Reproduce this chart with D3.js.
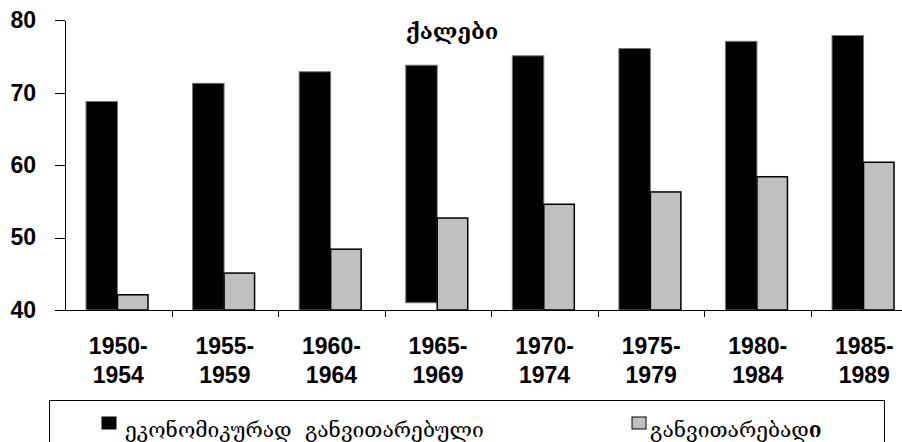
<!DOCTYPE html>
<head>
  <meta charset="utf-8">
  <style>
    body { margin: 0; background: #fff; }
    svg { display: block; }
    svg .axis path, svg .axis line { stroke: #000; stroke-width: 1px; shape-rendering: crispEdges; }
    svg .ytick { font: bold 23px "Liberation Sans", Arial, sans-serif; }
    svg .xlab { font: bold 23px "Liberation Sans", Arial, sans-serif; text-anchor: middle; }
    svg .title { font: bold 22px "DejaVu Serif", serif; text-anchor: middle; }
    svg .legend text { font: 21px "DejaVu Serif", serif; }
  </style>
</head>

<body>
<script src="https://d3js.org/d3.v7.min.js"></script>

<script>
  // data
  var periods = ["1950-1954", "1955-1959", "1960-1964", "1965-1969",
                 "1970-1974", "1975-1979", "1980-1984", "1985-1989"];
  var developed  = [68.8, 71.3, 72.9, 73.8, 75.1, 76.1, 77.1, 77.9];
  var developing = [42.1, 45.1, 48.4, 52.7, 54.6, 56.3, 58.4, 60.4];
  var developedBase = [40, 40, 40, 41, 40, 40, 40, 40];
  var seriesNames = ["ეკონომიკურად  განვითარებული", "განვითარებად"];
  var yTicks = [40, 50, 60, 70, 80];
  var title = "ქალები";

  var width = 902, height = 442;

  var svg = d3.select("body")
    .append("svg")
      .attr("width", width)
      .attr("height", height);

  // scales (plot runs past the right edge, like the cropped original)
  var x = d3.scaleBand().domain(periods).range([65, 917.6]);
  var xs = d3.scaleBand().domain([0, 1]).range([21, 84]);
  var y = d3.scaleLinear().domain([40, 80]).range([310, 20.3]);

  // bars - developed (black)
  svg.append("g").selectAll("rect")
    .data(periods)
    .join("rect")
      .attr("x", function (d) { return x(d) + xs(0); })
      .attr("y", function (d, i) { return y(developed[i]); })
      .attr("width", xs.bandwidth())
      .attr("height", function (d, i) { return y(developedBase[i]) - y(developed[i]); })
      .style("fill", "#000")
      .style("stroke", "#777")
      .style("stroke-width", "1px");

  // bars - developing (grey)
  svg.append("g").selectAll("rect")
    .data(periods)
    .join("rect")
      .attr("x", function (d) { return x(d) + xs(1); })
      .attr("y", function (d, i) { return y(developing[i]); })
      .attr("width", xs.bandwidth() - 1)
      .attr("height", function (d, i) { return y(40) - y(developing[i]); })
      .style("fill", "#c0c0c0")
      .style("stroke", "#000")
      .style("stroke-width", "1.5px");

  // y axis
  var yAxis = d3.axisLeft(y).tickValues(yTicks).tickSize(10).tickSizeOuter(0).tickPadding(19);
  var ya = svg.append("g")
      .attr("class", "axis")
      .attr("transform", "translate(65,0)")
      .call(yAxis);
  ya.selectAll("text").attr("class", "ytick").attr("fill", "#000");

  // x axis
  var xAxis = d3.axisBottom(x).tickSize(0).tickSizeOuter(0).tickFormat("");
  var xa = svg.append("g")
      .attr("class", "axis")
      .attr("transform", "translate(0,310)")
      .call(xAxis);
  xa.selectAll(".tick line").remove();

  // tick marks between categories
  xa.selectAll("line.sep")
    .data(periods.slice(1))
    .join("line")
      .attr("class", "sep")
      .attr("x1", function (d) { return Math.round(x(d)) + 0.5; })
      .attr("x2", function (d) { return Math.round(x(d)) + 0.5; })
      .attr("y1", 0)
      .attr("y2", 7);

  // category labels, two lines
  var labels = svg.append("g").selectAll("text")
    .data(periods)
    .join("text")
      .attr("class", "xlab")
      .attr("x", function (d) { return x(d) + x.bandwidth() / 2; })
      .attr("y", 354);
  labels.append("tspan")
      .attr("x", function (d) { return x(d) + x.bandwidth() / 2; })
      .text(function (d) { return d.split("-")[0] + "-"; });
  labels.append("tspan")
      .attr("x", function (d) { return x(d) + x.bandwidth() / 2; })
      .attr("dy", 29)
      .text(function (d) { return d.split("-")[1]; });

  // title
  svg.append("text")
      .attr("class", "title")
      .attr("x", 452)
      .attr("y", 39)
      .text(title);

  // legend
  var legend = svg.append("g").attr("class", "legend");
  legend.append("rect")
      .attr("x", 49.5).attr("y", 400.5)
      .attr("width", 835).attr("height", 60)
      .style("fill", "#fff").style("stroke", "#000").style("stroke-width", "1px");

  var legendItems = [
    { x: 102, fill: "#000", stroke: "#000" },
    { x: 632, fill: "#c0c0c0", stroke: "#000" }
  ];
  legend.selectAll("rect.key")
    .data(legendItems)
    .join("rect")
      .attr("class", "key")
      .attr("x", function (d) { return d.x; })
      .attr("y", 417)
      .attr("width", 14).attr("height", 12)
      .style("fill", function (d) { return d.fill; })
      .style("stroke", function (d) { return d.stroke; })
      .style("stroke-width", "1px");

  var t0 = legend.append("text").attr("x", 125).attr("y", 437)
      .style("white-space", "pre")
      .text(seriesNames[0]);
  var t1 = legend.append("text").attr("x", 650).attr("y", 437);
  t1.append("tspan").text(seriesNames[1]);
  t1.append("tspan").style("font-weight", "bold").text("ი");
</script>
</body>
</html>
